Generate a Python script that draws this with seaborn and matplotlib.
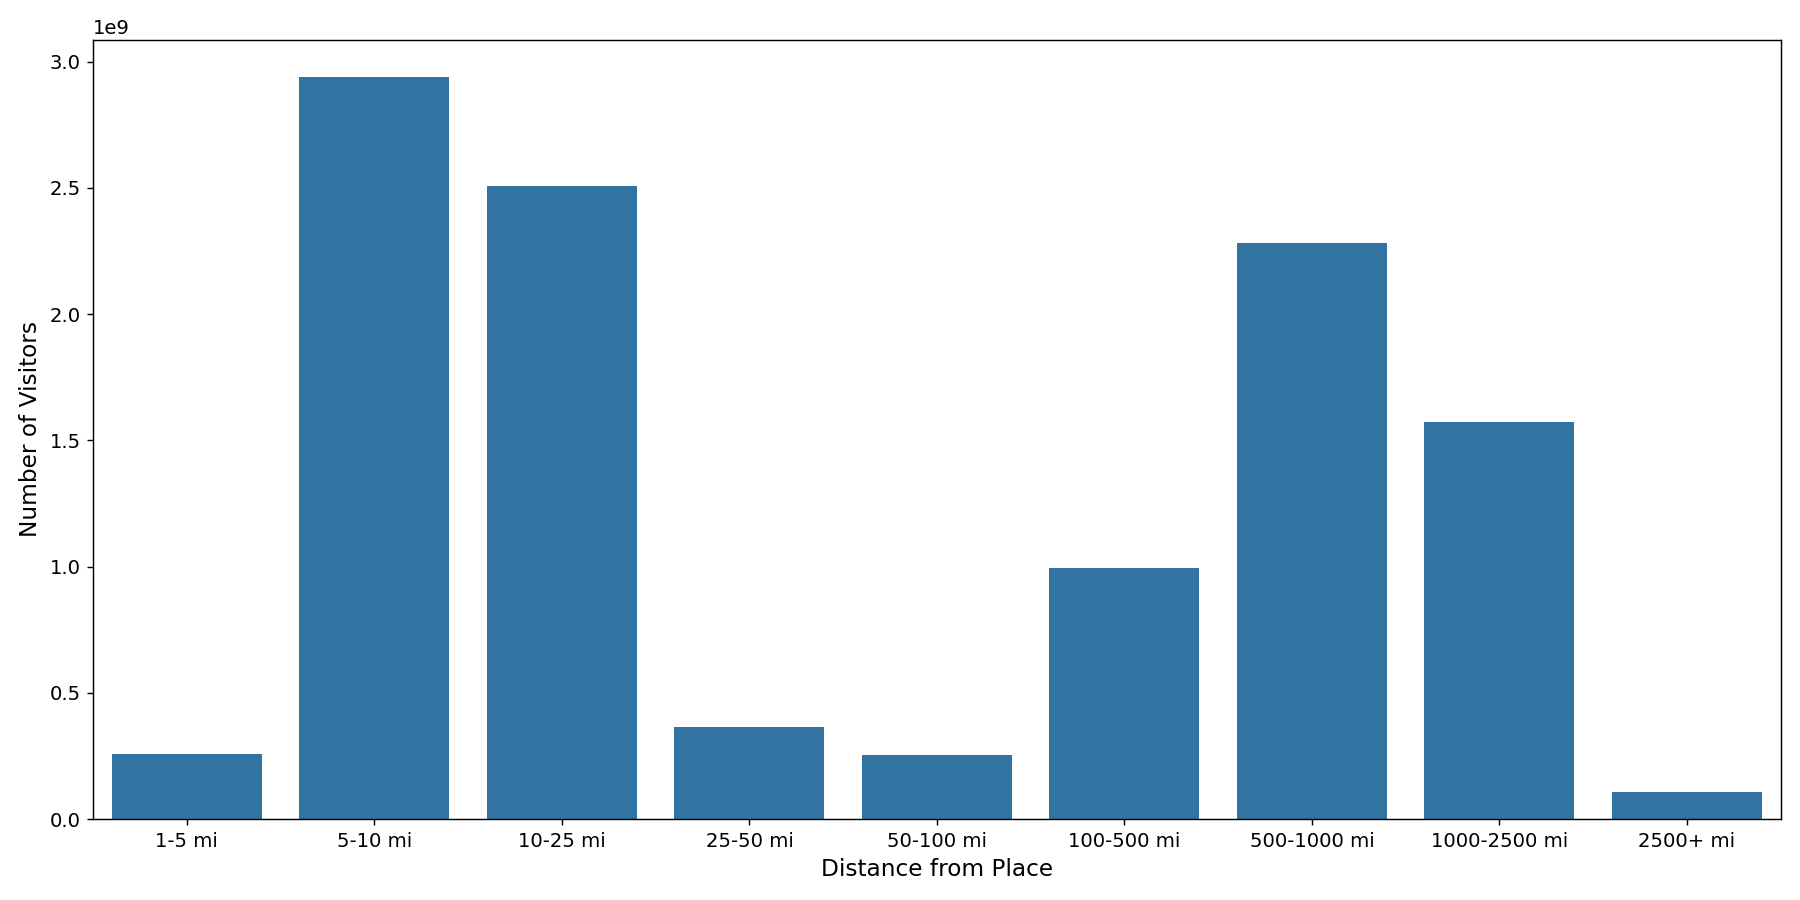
import matplotlib
matplotlib.use("Agg")
import matplotlib.pyplot as plt
import seaborn as sns
import pandas as pd

categories = ["1-5 mi", "5-10 mi", "10-25 mi", "25-50 mi", "50-100 mi",
              "100-500 mi", "500-1000 mi", "1000-2500 mi", "2500+ mi"]
visitors = [0.257e9, 2.94e9, 2.506e9, 0.364e9, 0.252e9,
            0.994e9, 2.282e9, 1.573e9, 0.107e9]

df = pd.DataFrame({"Distance from Place": categories, "Number of Visitors": visitors})

fig, ax = plt.subplots(figsize=(14, 7), dpi=1800 / 14)
sns.barplot(data=df, x="Distance from Place", y="Number of Visitors", color="#1f77b4", ax=ax)
ax.xaxis.label.set_size(13)
ax.yaxis.label.set_size(13)
ax.tick_params(labelsize=11)
ax.yaxis.get_offset_text().set_fontsize(11)
fig.tight_layout()
fig.savefig("out.png")
